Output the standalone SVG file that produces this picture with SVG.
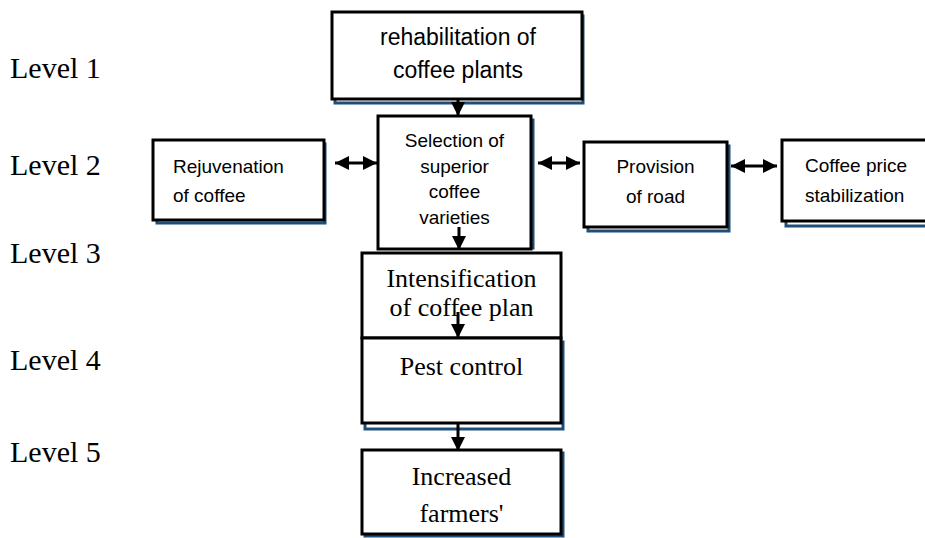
<svg xmlns="http://www.w3.org/2000/svg" width="925" height="538" viewBox="0 0 925 538">
<style>
.box{fill:#fff;stroke:#000;stroke-width:3}
.sh{fill:none;stroke:#1f4e79;stroke-width:3}
.sans{font-family:"Liberation Sans",Arial,sans-serif;font-size:19px;fill:#000}
.serif{font-family:"Liberation Serif","Times New Roman",serif;font-size:26px;fill:#000}
.lvl{font-family:"Liberation Serif","Times New Roman",serif;font-size:30px;fill:#000}
.c{text-anchor:middle}
.conn{stroke:#000;stroke-width:3;fill:none}
</style>
<defs>
<marker id="ah" viewBox="0 0 10 10" refX="10" refY="5" markerWidth="14" markerHeight="14" markerUnits="userSpaceOnUse" orient="auto-start-reverse">
<path d="M0,0 L10,5 L0,10 z" fill="#000"/>
</marker>
</defs>

<g id="levels">
<text class="lvl" x="10" y="78">Level 1</text>
<text class="lvl" x="10" y="175">Level 2</text>
<text class="lvl" x="10" y="263">Level 3</text>
<text class="lvl" x="10" y="370">Level 4</text>
<text class="lvl" x="10" y="462">Level 5</text>
</g>

<g id="rehabilitation">
<rect class="sh" x="335" y="16" width="248" height="87"/>
<rect class="box" x="332" y="12" width="250" height="87"/>
<text class="sans c" style="font-size:23px" x="458" y="45">rehabilitation of</text>
<text class="sans c" style="font-size:23px" x="458" y="78">coffee plants</text>
</g>

<g id="rejuvenation">
<rect class="sh" x="157" y="144" width="168" height="79"/>
<rect class="box" x="153" y="140" width="171" height="80"/>
<text class="sans" x="173" y="173">Rejuvenation</text>
<text class="sans" x="173" y="202">of coffee</text>
</g>

<g id="selection">
<rect class="sh" x="382" y="120" width="151" height="128"/>
<rect class="box" x="378" y="116" width="153" height="133"/>
<text class="sans c" x="454.5" y="147">Selection of</text>
<text class="sans c" x="454.5" y="173">superior</text>
<text class="sans c" x="454.5" y="198">coffee</text>
<text class="sans c" x="454.5" y="224">varieties</text>
</g>

<g id="provision">
<rect class="sh" x="588" y="146" width="141" height="85"/>
<rect class="box" x="584" y="142" width="143" height="85"/>
<text class="sans c" x="655.5" y="173">Provision</text>
<text class="sans c" x="655.5" y="203">of road</text>
</g>

<g id="price">
<rect class="sh" x="786" y="144" width="150" height="82"/>
<rect class="box" x="782" y="140" width="150" height="81"/>
<text class="sans" x="805" y="172">Coffee price</text>
<text class="sans" x="805" y="202">stabilization</text>
</g>

<g id="intensification">
<rect class="box" x="362" y="253" width="199" height="85"/>
<text class="serif c" x="461.5" y="287">Intensification</text>
<text class="serif c" x="461.5" y="316">of coffee plan</text>
</g>

<g id="pest">
<rect class="sh" x="365" y="342" width="198" height="87"/>
<rect class="box" x="362" y="338" width="199" height="85"/>
<text class="serif c" x="461.5" y="375">Pest control</text>
</g>

<g id="increased">
<rect class="sh" x="365" y="453" width="198" height="83"/>
<rect class="box" x="362" y="450" width="199" height="84"/>
<text class="serif c" x="461.5" y="485">Increased</text>
<text class="serif c" x="461.5" y="522">farmers'</text>
</g>

<g id="connectors">
<line class="conn" x1="458" y1="99" x2="458" y2="116" marker-end="url(#ah)"/>
<line class="conn" x1="459" y1="227" x2="459" y2="250" marker-end="url(#ah)"/>
<line class="conn" x1="458" y1="312" x2="458" y2="338" marker-end="url(#ah)"/>
<line class="conn" x1="458" y1="423" x2="458" y2="451" marker-end="url(#ah)"/>
<line class="conn" x1="335" y1="163" x2="377" y2="163" marker-start="url(#ah)" marker-end="url(#ah)"/>
<line class="conn" x1="538" y1="163" x2="580" y2="163" marker-start="url(#ah)" marker-end="url(#ah)"/>
<line class="conn" x1="731" y1="166" x2="777" y2="166" marker-start="url(#ah)" marker-end="url(#ah)"/>
</g>
</svg>
